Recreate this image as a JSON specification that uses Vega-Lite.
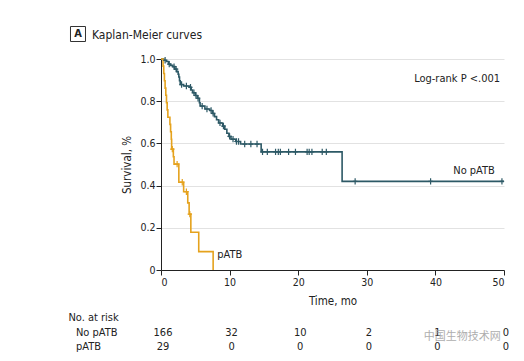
{
  "$schema": "https://vega.github.io/schema/vega-lite/v6.json",
  "padding": {"left": 68, "top": 19, "right": 0, "bottom": 0},
  "background": "white",
  "spacing": 5,
  "config": {
    "view": {"stroke": null},
    "font": "Liberation Sans Narrow, DejaVu Sans Condensed, Roboto",
    "text": {"font": "Liberation Sans Narrow, DejaVu Sans Condensed, Roboto"}
  },
  "resolve": {"scale": {"x": "independent", "y": "independent", "color": "independent"}},
  "datasets": {
    "curves": [
      {"g": "No pATB", "t": 0, "s": 1.0},
      {"g": "No pATB", "t": 0.4, "s": 0.994},
      {"g": "No pATB", "t": 0.8, "s": 0.988},
      {"g": "No pATB", "t": 1.1, "s": 0.976},
      {"g": "No pATB", "t": 1.4, "s": 0.97},
      {"g": "No pATB", "t": 1.7, "s": 0.964},
      {"g": "No pATB", "t": 2.0, "s": 0.952},
      {"g": "No pATB", "t": 2.3, "s": 0.94},
      {"g": "No pATB", "t": 2.5, "s": 0.928},
      {"g": "No pATB", "t": 2.6, "s": 0.915},
      {"g": "No pATB", "t": 2.7, "s": 0.897},
      {"g": "No pATB", "t": 2.8, "s": 0.879},
      {"g": "No pATB", "t": 3.3, "s": 0.872},
      {"g": "No pATB", "t": 4.1, "s": 0.866},
      {"g": "No pATB", "t": 4.4, "s": 0.853},
      {"g": "No pATB", "t": 4.6, "s": 0.84},
      {"g": "No pATB", "t": 5.0, "s": 0.827},
      {"g": "No pATB", "t": 5.3, "s": 0.814},
      {"g": "No pATB", "t": 5.6, "s": 0.793},
      {"g": "No pATB", "t": 5.7, "s": 0.777},
      {"g": "No pATB", "t": 6.4, "s": 0.763},
      {"g": "No pATB", "t": 7.1, "s": 0.756},
      {"g": "No pATB", "t": 7.5, "s": 0.742},
      {"g": "No pATB", "t": 7.8, "s": 0.727},
      {"g": "No pATB", "t": 8.1, "s": 0.712},
      {"g": "No pATB", "t": 8.4, "s": 0.697},
      {"g": "No pATB", "t": 9.0, "s": 0.682},
      {"g": "No pATB", "t": 9.3, "s": 0.667},
      {"g": "No pATB", "t": 9.6, "s": 0.648},
      {"g": "No pATB", "t": 9.9, "s": 0.633},
      {"g": "No pATB", "t": 10.2, "s": 0.62},
      {"g": "No pATB", "t": 10.9, "s": 0.609},
      {"g": "No pATB", "t": 11.6, "s": 0.597},
      {"g": "No pATB", "t": 14.6, "s": 0.56},
      {"g": "No pATB", "t": 26.4, "s": 0.42},
      {"g": "No pATB", "t": 50, "s": 0.42},
      {"g": "pATB", "t": 0, "s": 1.0},
      {"g": "pATB", "t": 0.3, "s": 0.966},
      {"g": "pATB", "t": 0.4, "s": 0.931},
      {"g": "pATB", "t": 0.5, "s": 0.897},
      {"g": "pATB", "t": 0.6, "s": 0.862},
      {"g": "pATB", "t": 0.7, "s": 0.828},
      {"g": "pATB", "t": 0.8, "s": 0.793},
      {"g": "pATB", "t": 0.9, "s": 0.759},
      {"g": "pATB", "t": 1.0, "s": 0.724},
      {"g": "pATB", "t": 1.3, "s": 0.69},
      {"g": "pATB", "t": 1.4, "s": 0.655},
      {"g": "pATB", "t": 1.5, "s": 0.62},
      {"g": "pATB", "t": 1.55, "s": 0.573},
      {"g": "pATB", "t": 1.8, "s": 0.537},
      {"g": "pATB", "t": 1.9, "s": 0.502},
      {"g": "pATB", "t": 2.6, "s": 0.416},
      {"g": "pATB", "t": 3.3, "s": 0.371},
      {"g": "pATB", "t": 3.9, "s": 0.318},
      {"g": "pATB", "t": 4.1, "s": 0.265},
      {"g": "pATB", "t": 4.35, "s": 0.179},
      {"g": "pATB", "t": 5.5, "s": 0.087},
      {"g": "pATB", "t": 7.6, "s": 0.0}
    ],
    "censor": [
      {"g": "No pATB", "t": 0.6, "s": 0.994},
      {"g": "No pATB", "t": 1.2, "s": 0.976},
      {"g": "No pATB", "t": 1.9, "s": 0.964},
      {"g": "No pATB", "t": 2.2, "s": 0.952},
      {"g": "No pATB", "t": 3.0, "s": 0.879},
      {"g": "No pATB", "t": 3.7, "s": 0.872},
      {"g": "No pATB", "t": 4.3, "s": 0.866},
      {"g": "No pATB", "t": 4.8, "s": 0.84},
      {"g": "No pATB", "t": 5.1, "s": 0.827},
      {"g": "No pATB", "t": 5.4, "s": 0.814},
      {"g": "No pATB", "t": 6.0, "s": 0.777},
      {"g": "No pATB", "t": 6.7, "s": 0.763},
      {"g": "No pATB", "t": 7.3, "s": 0.756},
      {"g": "No pATB", "t": 7.6, "s": 0.742},
      {"g": "No pATB", "t": 8.6, "s": 0.697},
      {"g": "No pATB", "t": 9.1, "s": 0.682},
      {"g": "No pATB", "t": 10.0, "s": 0.633},
      {"g": "No pATB", "t": 10.5, "s": 0.62},
      {"g": "No pATB", "t": 11.0, "s": 0.609},
      {"g": "No pATB", "t": 11.3, "s": 0.609},
      {"g": "No pATB", "t": 12.2, "s": 0.597},
      {"g": "No pATB", "t": 13.1, "s": 0.597},
      {"g": "No pATB", "t": 14.0, "s": 0.597},
      {"g": "No pATB", "t": 14.8, "s": 0.56},
      {"g": "No pATB", "t": 15.5, "s": 0.56},
      {"g": "No pATB", "t": 16.7, "s": 0.56},
      {"g": "No pATB", "t": 17.1, "s": 0.56},
      {"g": "No pATB", "t": 17.4, "s": 0.56},
      {"g": "No pATB", "t": 18.6, "s": 0.56},
      {"g": "No pATB", "t": 19.6, "s": 0.56},
      {"g": "No pATB", "t": 21.3, "s": 0.56},
      {"g": "No pATB", "t": 21.6, "s": 0.56},
      {"g": "No pATB", "t": 22.0, "s": 0.56},
      {"g": "No pATB", "t": 23.5, "s": 0.56},
      {"g": "No pATB", "t": 24.1, "s": 0.56},
      {"g": "No pATB", "t": 28.3, "s": 0.42},
      {"g": "No pATB", "t": 39.3, "s": 0.42},
      {"g": "No pATB", "t": 49.7, "s": 0.42},
      {"g": "pATB", "t": 1.65, "s": 0.573},
      {"g": "pATB", "t": 2.35, "s": 0.502},
      {"g": "pATB", "t": 3.1, "s": 0.416},
      {"g": "pATB", "t": 3.7, "s": 0.371},
      {"g": "pATB", "t": 4.2, "s": 0.265}
    ],
    "notes": [
      {"t": 42.6, "s": 0.471, "text": "No pATB"},
      {"t": 8.2, "s": 0.071, "text": "pATB"},
      {"t": 36.9, "s": 0.905, "text": "Log-rank P <.001"}
    ],
    "risk": [
      {"r": 1, "t": 0, "n": "166"},
      {"r": 1, "t": 10, "n": "32"},
      {"r": 1, "t": 20, "n": "10"},
      {"r": 1, "t": 30, "n": "2"},
      {"r": 1, "t": 40, "n": "1"},
      {"r": 1, "t": 50, "n": "0"},
      {"r": 2, "t": 0, "n": "29"},
      {"r": 2, "t": 10, "n": "0"},
      {"r": 2, "t": 20, "n": "0"},
      {"r": 2, "t": 30, "n": "0"},
      {"r": 2, "t": 40, "n": "0"},
      {"r": 2, "t": 50, "n": "0"}
    ],
    "risklabels": [
      {"r": 0, "t": -13.5, "text": "No. at risk"},
      {"r": 1, "t": -12.4, "text": "No pATB"},
      {"r": 2, "t": -12.4, "text": "pATB"}
    ],
    "watermark": [
      {"r": 1.32, "t": 38.3, "text": "中国生物技术网"}
    ]
  },
  "vconcat": [
    {
      "width": 343,
      "height": 30,
      "layer": [
        {
          "data": {"values": [{"t": -12.1, "text": "A"}]},
          "mark": {"type": "point", "shape": "square", "size": 225, "filled": false, "stroke": "#333", "strokeWidth": 1, "opacity": 1},
          "encoding": {"x": {"field": "t", "type": "quantitative", "scale": {"domain": [0, 50], "nice": false}, "axis": null}}
        },
        {
          "data": {"values": [{"t": -12.1, "text": "A"}]},
          "mark": {"type": "text", "fontSize": 11, "fontWeight": "bold", "color": "#222", "align": "center", "baseline": "middle"},
          "encoding": {"x": {"field": "t", "type": "quantitative", "scale": {"domain": [0, 50], "nice": false}, "axis": null}, "text": {"field": "text"}}
        },
        {
          "data": {"values": [{"t": -10.06, "text": "Kaplan-Meier curves"}]},
          "mark": {"type": "text", "fontSize": 12, "color": "#222", "align": "left", "baseline": "middle", "dy": 1},
          "encoding": {"x": {"field": "t", "type": "quantitative", "scale": {"domain": [0, 50], "nice": false}, "axis": null}, "text": {"field": "text"}}
        }
      ]
    },
    {
      "width": 343,
      "height": 211,
      "encoding": {
        "x": {"field": "t", "type": "quantitative", "scale": {"domain": [0, 50], "nice": false},
          "axis": {"values": [0, 10, 20, 30, 40, 50], "title": "Time, mo", "grid": false, "domainColor": "#222", "tickColor": "#222", "tickSize": 5, "labelFontSize": 10.5, "labelColor": "#222", "labelPadding": 2, "titleFontSize": 11.5, "titleFontWeight": "normal", "titleColor": "#222", "titlePadding": 8}},
        "y": {"field": "s", "type": "quantitative", "scale": {"domain": [0, 1], "nice": false},
          "axis": {"values": [0, 0.2, 0.4, 0.6, 0.8, 1.0], "labelExpr": "datum.value == 0 ? '0' : format(datum.value, '.1f')", "title": "Survival, %", "grid": true, "gridColor": "#e2e2e2", "domainColor": "#222", "tickColor": "#222", "tickSize": 5, "labelFontSize": 10.5, "labelColor": "#222", "labelPadding": 1, "titleFontSize": 11.5, "titleFontWeight": "normal", "titleColor": "#222", "titlePadding": 7}}
      },
      "layer": [
        {
          "data": {"name": "curves"},
          "mark": {"type": "line", "interpolate": "step-after", "strokeWidth": 1.6},
          "encoding": {"color": {"field": "g", "type": "nominal", "scale": {"domain": ["No pATB", "pATB"], "range": ["#2d5966", "#e5a21d"]}, "legend": null}}
        },
        {
          "data": {"name": "censor"},
          "mark": {"type": "point", "shape": "M0,-1V1M-0.7,0H0.7", "size": 40, "filled": false, "strokeWidth": 1.2, "opacity": 1},
          "encoding": {"color": {"field": "g", "type": "nominal", "scale": {"domain": ["No pATB", "pATB"], "range": ["#2d5966", "#e5a21d"]}, "legend": null}}
        },
        {
          "data": {"name": "notes"},
          "mark": {"type": "text", "fontSize": 11, "color": "#222", "align": "left", "baseline": "middle"},
          "encoding": {"text": {"field": "text"}}
        }
      ]
    },
    {
      "width": 343,
      "height": 29,
      "encoding": {
        "x": {"field": "t", "type": "quantitative", "scale": {"domain": [0, 50], "nice": false}, "axis": null},
        "y": {"field": "r", "type": "quantitative", "scale": {"domain": [0, 2], "reverse": true, "nice": false}, "axis": null}
      },
      "layer": [
        {
          "data": {"name": "risklabels"},
          "mark": {"type": "text", "fontSize": 11, "color": "#222", "align": "left", "baseline": "middle"},
          "encoding": {"text": {"field": "text"}}
        },
        {
          "data": {"name": "risk"},
          "mark": {"type": "text", "fontSize": 11, "color": "#222", "align": "center", "baseline": "middle", "dx": 2},
          "encoding": {"text": {"field": "n"}}
        },
        {
          "data": {"name": "watermark"},
          "mark": {"type": "text", "fontSize": 11, "color": "#9a9a9a", "opacity": 0.8, "align": "left", "baseline": "middle", "font": "Noto Sans CJK SC"},
          "encoding": {"text": {"field": "text"}}
        }
      ]
    }
  ]
}
